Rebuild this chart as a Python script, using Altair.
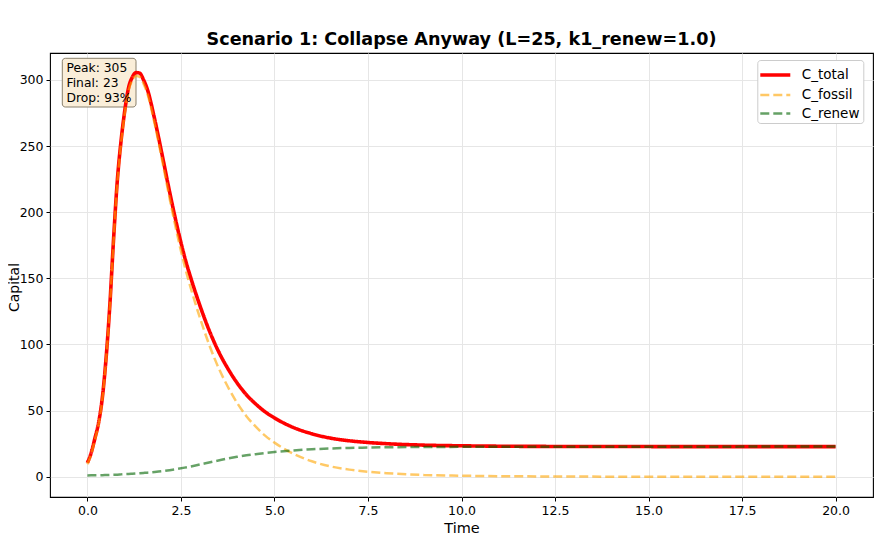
import altair as alt
import pandas as pd

time = [0, 0.1, 0.2, 0.3, 0.4, 0.5, 0.6, 0.7, 0.8, 0.9, 1.0, 1.1, 1.2, 1.3, 1.4, 1.5, 1.6,
        1.8, 2.0, 2.2, 2.4, 2.6, 2.8, 3.0,
        3.25, 3.5, 3.75, 4.0, 4.25, 4.5, 4.75,
        5.0, 5.5, 6.0, 6.5, 7.0, 7.5, 8.0,
        9, 10, 11, 12, 14, 16, 18, 20]

c_total = [10.5, 18, 29, 41, 60, 90, 130, 180, 224, 254, 277, 294, 302, 305.5, 305, 300, 293,
           270, 243, 215, 189, 166, 147, 130,
           111, 95, 82, 71, 62, 55, 49.1,
           44.5, 37.3, 32.5, 29.2, 27.2, 25.9, 25.0,
           23.9, 23.4, 23.1, 22.95, 22.85, 22.8, 22.8, 22.8]

c_fossil = [9.5, 16.9, 27.9, 39.8, 58.8, 88.7, 128.6, 178.5, 222.4, 252.2, 275, 291.9, 299.7, 303, 302.3, 297.1, 289.9,
            266.4, 238.8, 210, 183.1, 159.1, 139, 120.8,
            100.2, 82.7, 68.2, 55.9, 45.8, 37.9, 31.1,
            25.8, 17.4, 11.7, 7.8, 5.4, 3.8, 2.7,
            1.4, 0.8, 0.45, 0.25, 0.08, 0.03, 0.01, 0.0]

c_renew = [1.0, 1.05, 1.1, 1.15, 1.2, 1.3, 1.4, 1.5, 1.6, 1.8, 2.0, 2.1, 2.3, 2.5, 2.7, 2.9, 3.1,
           3.6, 4.2, 5.0, 5.9, 6.9, 8.0, 9.2,
           10.8, 12.3, 13.8, 15.1, 16.2, 17.1, 17.95,
           18.7, 19.9, 20.8, 21.4, 21.8, 22.1, 22.3,
           22.5, 22.6, 22.65, 22.7, 22.75, 22.77, 22.78, 22.8]

series_names = ["C_total", "C_fossil", "C_renew"]
series_colors = ["#ff0000", "#ffa500", "#006400"]
series_dash = [[1, 0], [9, 4], [9, 4]]
series_width = [3.6, 2.5, 2.5]
series_opacity = [1.0, 0.6, 0.6]

annotation = "Peak: 305\nFinal: 23\nDrop: 93%"
title_text = "Scenario 1: Collapse Anyway (L=25, k1_renew=1.0)"

rows = []
for name, vals in zip(series_names, [c_total, c_fossil, c_renew]):
    for t, v in zip(time, vals):
        rows.append({"Time": t, "Capital": v, "series": name})
df = pd.DataFrame(rows)

x_enc = alt.X("Time:Q",
              scale=alt.Scale(domain=[-1, 21], nice=False, zero=False),
              axis=alt.Axis(values=[0, 2.5, 5, 7.5, 10, 12.5, 15, 17.5, 20], format=".1f",
                            title="Time", titleBaseline="alphabetic", titleY=35.4,
                            titleFontSize=14.5))
y_enc = alt.Y("Capital:Q",
              scale=alt.Scale(domain=[-15.3, 320.3], nice=False, zero=False),
              axis=alt.Axis(values=[0, 50, 100, 150, 200, 250, 300], title="Capital",
                            titleX=-31.5, titleY=234, titleBaseline="alphabetic",
                            titleFontSize=14))

enc = dict(
    x=x_enc, y=y_enc,
    color=alt.Color("series:N", scale=alt.Scale(domain=series_names, range=series_colors),
                    legend=alt.Legend(title=None, orient="none", legendX=707.3, legendY=7)),
    strokeDash=alt.StrokeDash("series:N", scale=alt.Scale(type="ordinal", domain=series_names, range=series_dash)),
    strokeWidth=alt.StrokeWidth("series:N", scale=alt.Scale(type="ordinal", domain=series_names, range=series_width)),
    opacity=alt.Opacity("series:N", scale=alt.Scale(type="ordinal", domain=series_names, range=series_opacity)),
)

base = alt.Chart(df)
layers = [
    base.mark_line(interpolate="monotone").encode(**enc).transform_filter(alt.datum.series == s)
    for s in series_names
]

box = alt.Chart(pd.DataFrame({"a": [0]})).mark_rect(
    fill="#faeed9", stroke="#8a806c", strokeWidth=1, cornerRadius=3
).encode(x=alt.value(12.3), x2=alt.value(86), y=alt.value(5.3), y2=alt.value(54))

txt = alt.Chart(pd.DataFrame({"t": [annotation]})).mark_text(
    align="left", baseline="top", fontSize=12.3, font="DejaVu Sans", color="black",
    lineBreak="\n", lineHeight=15
).encode(x=alt.value(16.5), y=alt.value(8.5), text="t:N")

chart = alt.layer(box, *layers, txt).properties(
    width=823, height=444,
    title=alt.TitleParams(title_text, fontSize=17.6, font="DejaVu Sans", fontWeight="bold",
                          anchor="middle", color="black", offset=4),
    autosize=alt.AutoSizeParams(type="none"),
    padding={"left": 42, "top": 45, "right": 3, "bottom": 39},
).configure_view(stroke="black", strokeWidth=1.1).configure_axis(
    domain=False, grid=True, gridColor="#e6e6e6", gridWidth=1,
    tickColor="black", tickSize=4, tickWidth=1, labelPadding=3,
    labelFont="DejaVu Sans", labelFontSize=12.5, labelColor="black",
    titleFont="DejaVu Sans", titleFontSize=15, titleFontWeight="normal", titleColor="black",
).configure_legend(
    symbolType="M-1.2,0L1.8,0", symbolSize=400, labelFont="DejaVu Sans", labelFontSize=13.5,
    labelColor="black", fillColor="white", strokeColor="#cccccc", cornerRadius=3,
    padding=3, rowPadding=0.5, labelOffset=17.5,
)

chart.save("out.html", embed_options={"renderer": "svg", "actions": False})
